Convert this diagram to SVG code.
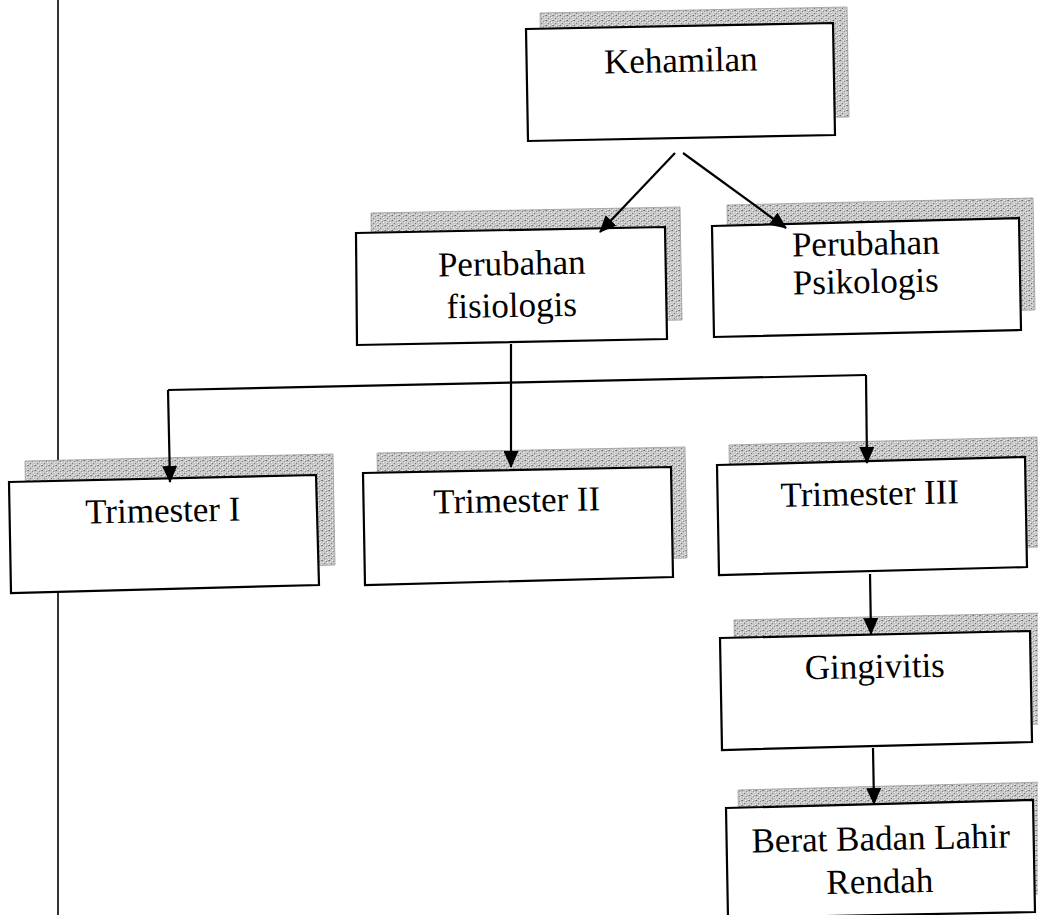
<svg xmlns="http://www.w3.org/2000/svg" width="1038" height="915" viewBox="0 0 1038 915">
<defs>
<pattern id="stip" width="7" height="5" patternUnits="userSpaceOnUse">
<rect width="7" height="5" fill="#c6c6c6"/>
<rect x="0" y="0" width="1" height="1" fill="#6a6a6a"/>
<rect x="4" y="1" width="1" height="1" fill="#8a8a8a"/>
<rect x="2" y="3" width="1" height="1" fill="#7a7a7a"/>
<rect x="6" y="4" width="1" height="1" fill="#f0f0f0"/>
<rect x="5" y="2" width="1" height="1" fill="#eeeeee"/>
<rect x="1" y="2" width="1" height="1" fill="#e6e6e6"/>
<rect x="3" y="0" width="1" height="1" fill="#f4f4f4"/>
<rect x="6" y="0" width="1" height="1" fill="#909090"/>
</pattern>
<marker id="ah" markerWidth="17" markerHeight="15" refX="16" refY="7.5" orient="auto" markerUnits="userSpaceOnUse">
<path d="M0,0 L17,7.5 L0,15 Z" fill="#000"/>
</marker>
</defs>
<style>
.box{fill:#fff;stroke:#000;stroke-width:2.2}
.sh{fill:url(#stip);stroke:#999;stroke-width:0.8}
.t{font-family:"Liberation Serif","Times New Roman",serif;font-size:35px;fill:#000;text-anchor:middle}
.ln{stroke:#000;stroke-width:2.2;fill:none}
</style>
<rect width="1038" height="915" fill="#fff"/>
<line x1="58" y1="0" x2="58" y2="915" stroke="#000" stroke-width="1.6"/>

<g id="kehamilan">
<polygon class="sh" points="540,13 847,7 849,117 542,123"/>
<polygon class="box" points="526,29 833,23 835,135 528,141"/>
<text class="t" x="681" y="72" transform="rotate(-1.1 681 72)">Kehamilan</text>
</g>

<g id="fisiologis">
<polygon class="sh" points="371,213 680,207 682,320 372,325"/>
<polygon class="box" points="356,233 665,227 667,339 357,345"/>
<text class="t" x="512" y="275" transform="rotate(-1.1 512 275)">Perubahan</text>
<text class="t" x="512" y="317" transform="rotate(-1.1 512 317)">fisiologis</text>
</g>

<g id="psikologis">
<polygon class="sh" points="727,205 1033,198 1035,310 729,316"/>
<polygon class="box" points="712,226 1019,218 1021,330 714,337"/>
<text class="t" x="866" y="255" transform="rotate(-1.1 866 255)">Perubahan</text>
<text class="t" x="866" y="293" transform="rotate(-1.1 866 293)">Psikologis</text>
</g>

<g id="trimester1">
<polygon class="sh" points="25,461 333,454 335,565 27,572"/>
<polygon class="box" points="9,482 316,475 319,585 11,593"/>
<text class="t" x="163" y="522" transform="rotate(-1.1 163 522)">Trimester I</text>
</g>

<g id="trimester2">
<polygon class="sh" points="377,453 685,447 687,558 379,565"/>
<polygon class="box" points="363,473 671,467 673,577 365,585"/>
<text class="t" x="517" y="512" transform="rotate(-1.1 517 512)">Trimester II</text>
</g>

<g id="trimester3">
<polygon class="sh" points="729,445 1037,437 1039,547 731,555"/>
<polygon class="box" points="717,465 1025,457 1027,567 719,575"/>
<text class="t" x="870" y="505" transform="rotate(-1.1 870 505)">Trimester III</text>
</g>

<g id="gingivitis">
<polygon class="sh" points="734,620 1044,613 1046,724 736,732"/>
<polygon class="box" points="720,638 1030,631 1032,742 722,750"/>
<text class="t" x="875" y="678" transform="rotate(-1.1 875 678)">Gingivitis</text>
</g>

<g id="bblr">
<polygon class="sh" points="738,790 1045,782 1047,894 740,897"/>
<polygon class="box" points="726,808 1033,800 1035,912 728,918"/>
<text class="t" x="881" y="850" transform="rotate(-1.1 881 850)">Berat Badan Lahir</text>
<text class="t" x="880" y="893" transform="rotate(-1.1 880 893)">Rendah</text>
</g>

<g id="connectors">
<line class="ln" x1="675" y1="153" x2="600" y2="232" marker-end="url(#ah)"/>
<line class="ln" x1="683" y1="153" x2="786" y2="228" marker-end="url(#ah)"/>
<line class="ln" x1="511" y1="344" x2="511" y2="467" marker-end="url(#ah)"/>
<polyline class="ln" points="168,390 866,375"/>
<line class="ln" x1="168" y1="390" x2="170" y2="482" marker-end="url(#ah)"/>
<line class="ln" x1="866" y1="375" x2="867" y2="463" marker-end="url(#ah)"/>
<line class="ln" x1="870" y1="574" x2="871" y2="634" marker-end="url(#ah)"/>
<line class="ln" x1="873" y1="748" x2="874" y2="804" marker-end="url(#ah)"/>
</g>
</svg>
